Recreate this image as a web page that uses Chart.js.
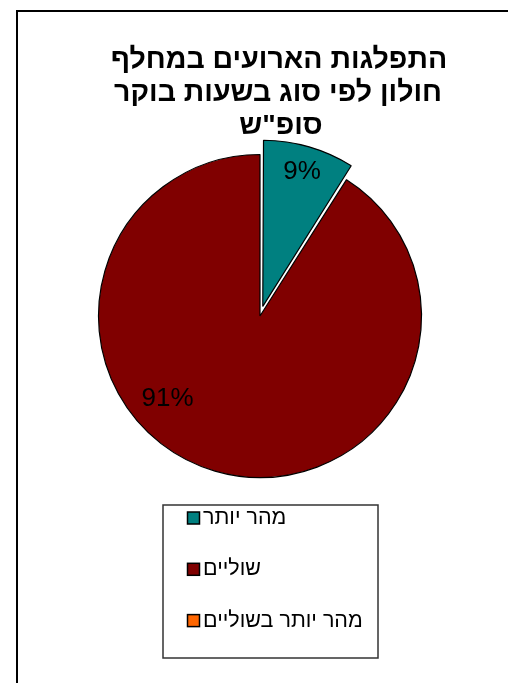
<!DOCTYPE html>
<html><head><meta charset="utf-8">
<script src="https://cdn.jsdelivr.net/npm/chart.js@4/dist/chart.umd.min.js"></script>
<style>
html,body{margin:0;padding:0;background:#fff;overflow:hidden;width:508px;height:683px}
#frame{position:absolute;left:16px;top:10px;width:600px;height:800px;border:2px solid #000;box-sizing:border-box}
#c{position:absolute;left:0;top:0}
</style></head><body>
<div id="frame"></div>
<canvas id="c" width="508" height="683"></canvas>
<script>
// ---- data ----
const titleLines = ['התפלגות הארועים במחלף', 'חולון לפי סוג בשעות בוקר', 'סופ"ש'];
const categories = ['מהר יותר', 'שוליים', 'מהר יותר בשוליים'];
const shares = [9, 91, 0];
const sliceColors = ['#008080', '#800000', '#FF6600'];

// ---- plugins ----
const titlePlugin = {
  id: 'rtlTitle',
  afterDraw(chart, args, o) {
    const ctx = chart.ctx;
    ctx.save();
    ctx.direction = 'rtl';
    ctx.font = o.font;
    ctx.fillStyle = o.color;
    ctx.textAlign = 'center';
    ctx.textBaseline = 'alphabetic';
    o.lines.forEach((t, i) => ctx.fillText(t, o.xs[i], o.firstBaseline + i * o.lineHeight));
    ctx.restore();
  }
};

const pctPlugin = {
  id: 'pctLabels',
  afterDatasetsDraw(chart, args, o) {
    const ctx = chart.ctx;
    const meta = chart.getDatasetMeta(0);
    const ds = chart.data.datasets[0];
    const total = ds.data.reduce((a, b) => a + b, 0);
    ctx.save();
    ctx.font = o.font;
    ctx.fillStyle = o.color;
    ctx.textAlign = 'center';
    ctx.textBaseline = 'middle';
    meta.data.forEach((arc, i) => {
      const v = ds.data[i];
      if (!v) return;
      const p = arc.getProps(['x', 'y', 'startAngle', 'endAngle', 'outerRadius']);
      const off = (arc.options.offset || 0) / 4; // Chart.js v4 translates arcs by offset/4
      const mid = (p.startAngle + p.endAngle) / 2;
      const place = (o.placement && o.placement[i]) || {};
      const ang = place.clockDeg !== undefined ? (place.clockDeg - 90) * Math.PI / 180 : mid;
      const r = p.outerRadius * (place.r || 0.75);
      const cx = p.x + Math.cos(mid) * off;
      const cy = p.y + Math.sin(mid) * off;
      const txt = Math.round(v / total * 100) + '%';
      ctx.fillText(txt, cx + Math.cos(ang) * r, cy + Math.sin(ang) * r);
    });
    ctx.restore();
  }
};

const boxLegendPlugin = {
  id: 'boxLegend',
  afterDraw(chart, args, o) {
    const ctx = chart.ctx;
    const ds = chart.data.datasets[0];
    ctx.save();
    ctx.strokeStyle = o.borderColor;
    ctx.lineWidth = o.borderWidth;
    ctx.strokeRect(o.left, o.top, o.width, o.height);
    ctx.font = o.font;
    ctx.direction = 'rtl';
    ctx.textAlign = 'left';
    ctx.textBaseline = 'middle';
    chart.data.labels.forEach((lab, i) => {
      const yc = o.firstY + i * o.rowGap;
      ctx.fillStyle = ds.backgroundColor[i];
      ctx.fillRect(o.boxX, yc - o.boxSize / 2, o.boxSize, o.boxSize);
      ctx.lineWidth = 1.5;
      ctx.strokeStyle = '#000';
      ctx.strokeRect(o.boxX, yc - o.boxSize / 2, o.boxSize, o.boxSize);
      ctx.fillStyle = '#000';
      ctx.fillText(lab, o.textX, yc);
    });
    ctx.restore();
  }
};

new Chart(document.getElementById('c'), {
  type: 'pie',
  data: {
    labels: categories,
    datasets: [{
      data: shares,
      backgroundColor: sliceColors,
      borderColor: '#000',
      borderWidth: 1.2,
      offset: [40, 0, 0],
      hoverOffset: 0
    }]
  },
  options: {
    responsive: false,
    animation: false,
    events: [],
    layout: { padding: { left: 77.9, right: 65.9, top: 133.9, bottom: 184.9 } },
    plugins: {
      legend: { display: false },
      title: { display: false },
      tooltip: { enabled: false },
      rtlTitle: {
        lines: titleLines,
        font: 'bold 28.5px "Liberation Sans", Arial, sans-serif',
        color: '#000',
        xs: [279, 278, 281],
        firstBaseline: 68,
        lineHeight: 33
      },
      pctLabels: {
        font: '26px "Liberation Sans", Arial, sans-serif',
        color: '#000',
        placement: [{ r: 0.87 }, { r: 0.77, clockDeg: 228 }]
      },
      boxLegend: {
        left: 163, top: 505, width: 215, height: 153,
        borderColor: '#333', borderWidth: 1.5,
        font: '21.5px "Liberation Sans", Arial, sans-serif',
        boxX: 187.5, boxSize: 12, textX: 203,
        firstY: 518, rowGap: 51.3
      }
    }
  },
  plugins: [titlePlugin, pctPlugin, boxLegendPlugin]
});
</script>
</body></html>
